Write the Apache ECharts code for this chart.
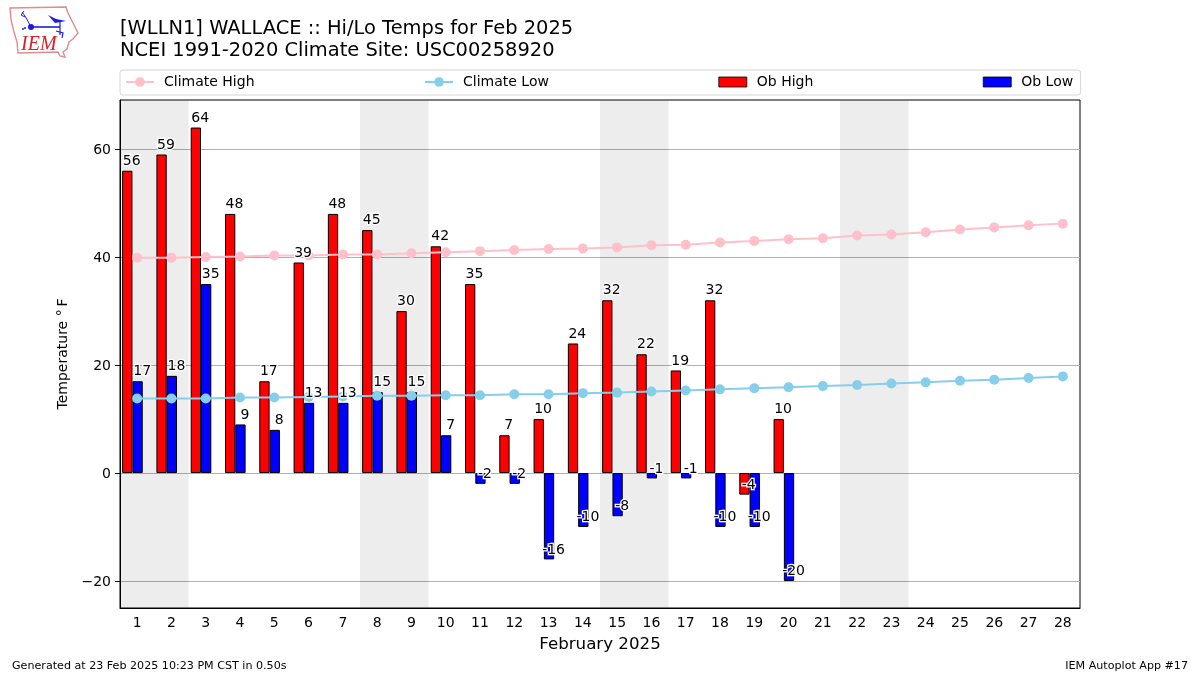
<!DOCTYPE html>
<html>
<head>
<meta charset="utf-8">
<style>html,body{margin:0;padding:0;background:#fff}#c{width:1200px;height:675px}</style>
<script src="https://cdn.jsdelivr.net/npm/echarts@6/dist/echarts.min.js"></script>
</head>
<body>
<div id="c"></div>
<script>
const days = ['1','2','3','4','5','6','7','8','9','10','11','12','13','14','15','16','17','18','19','20','21','22','23','24','25','26','27','28'];
const obHigh = [56,59,64,48,17,39,48,45,30,42,35,7,10,24,32,22,19,32,-4,10];
const obLow = [17,18,35,9,8,13,13,15,15,7,-2,-2,-16,-10,-8,-1,-1,-10,-10,-20];
const climateHigh = [39.9,39.9,40.0,40.1,40.3,40.3,40.5,40.5,40.7,40.9,41.1,41.3,41.5,41.6,41.8,42.2,42.3,42.7,43.0,43.3,43.5,44.0,44.2,44.6,45.1,45.5,45.9,46.2];
const climateLow = [13.8,13.8,13.8,14.0,14.0,14.1,14.2,14.3,14.3,14.4,14.4,14.6,14.6,14.8,14.9,15.1,15.3,15.5,15.7,15.9,16.1,16.3,16.6,16.8,17.1,17.3,17.6,17.9];
const weekends = [[0.5,2.5],[7.5,9.5],[14.5,16.5],[21.5,23.5]];
const yTicks = [-20,0,20,40,60];
const yMin = -25, yMax = 69.1;

const FONT = 'DejaVu Sans';
const chart = echarts.init(document.getElementById('c'), null, {renderer:'canvas'});

function labelSeries(name, values, dx){
  return {
    name, type:'scatter', z:20, silent:true, symbol:'circle', symbolSize:1,
    itemStyle:{opacity:0}, xAxisIndex:0, yAxisIndex:0,
    data: values.map((v,i)=>[i,v]),
    label:{show:true, position:[dx,-2], align:'center', verticalAlign:'bottom',
      formatter:p=>String(p.value[1]), fontFamily:FONT, fontSize:14, color:'#000',
      textBorderColor:'#fff', textBorderWidth:2.5, opacity:1},
    labelLayout:{hideOverlap:false},
    emphasis:{disabled:true}
  };
}

const logoPts = [[10,8],[66,7],[68,13],[72,21],[75,27],[78,33],[73,39],[69,42],[67,49],[63,52],[65,57],[60,56],[58,52],[18,53],[17,42],[14,32],[11,20]];
// bar legend swatch: zero-length moves keep a 1-unit margin above and below the box
const barIcon = 'path://M0 0L0 0M0 1L28 1L28 11L0 11ZM0 12L0 12';
const swatchEdge = {borderWidth:0.8};

chart.setOption({
  animation:false,
  backgroundColor:'#fff',
  textStyle:{fontFamily:FONT},
  title:[
    {text:'[WLLN1] WALLACE :: Hi/Lo Temps for Feb 2025\nNCEI 1991-2020 Climate Site: USC00258920',
     left:120, top:18, padding:0,
     textStyle:{fontFamily:FONT, fontSize:19.44, fontWeight:'normal', color:'#000', lineHeight:22}},
    {text:'Generated at 23 Feb 2025 10:23 PM CST in 0.50s', left:12, top:661, padding:0,
     textStyle:{fontFamily:FONT, fontSize:11.11, fontWeight:'normal', color:'#000'}},
    {text:'IEM Autoplot App #17', right:12, top:661, padding:0,
     textStyle:{fontFamily:FONT, fontSize:11.11, fontWeight:'normal', color:'#000'}}
  ],
  legend:{
    left:120, top:70, orient:'horizontal',
    padding:[5,7.5,6,5], itemGap:169.5, itemWidth:28, itemHeight:12,
    borderColor:'#d5d5d5', borderWidth:1, borderRadius:3, backgroundColor:'#fff',
    selectedMode:false,
    textStyle:{fontFamily:FONT, fontSize:14, color:'#000', padding:[0,0,0,5]},
    data:[{name:'Climate High'},{name:'Climate Low'},{name:'Ob High',icon:barIcon,itemStyle:swatchEdge},{name:'Ob Low',icon:barIcon,itemStyle:swatchEdge}]
  },
  grid:{left:120, right:120, top:100, bottom:67, show:true, borderColor:'#000', borderWidth:1, backgroundColor:'transparent', containLabel:false},
  xAxis:[
    {type:'category', data:days, boundaryGap:true, name:'February 2025', nameLocation:'middle', nameGap:28,
     nameTextStyle:{fontFamily:FONT, fontSize:16.67, color:'#000'},
     axisLine:{onZero:false, lineStyle:{color:'#000', width:1}},
     axisTick:{alignWithLabel:true, length:5, lineStyle:{color:'#000'}},
     axisLabel:{interval:0, fontFamily:FONT, fontSize:14, color:'#000', margin:8},
     splitLine:{show:false}},
    {type:'value', min:0.5, max:28.5, show:false, splitLine:{show:false}}
  ],
  yAxis:{
    type:'value', min:yMin, max:yMax, name:'Temperature °\u2009F',
    nameLocation:'middle', nameGap:49, nameRotate:90,
    nameTextStyle:{fontFamily:FONT, fontSize:14, color:'#000'},
    axisLine:{show:true, lineStyle:{color:'#000', width:1}},
    axisTick:{show:true, length:5, customValues:yTicks, lineStyle:{color:'#000'}},
    axisLabel:{fontFamily:FONT, fontSize:14, color:'#000', margin:9, verticalAlign:'top', padding:[-6,0,0,0], customValues:yTicks, formatter:v=>String(v).replace('-','\u2212')},
    splitLine:{show:true, lineStyle:{color:'#b0b0b0', width:1}}
  },
  series:[
    {name:'weekend', type:'line', xAxisIndex:1, yAxisIndex:0, data:[], silent:true, z:0,
     markArea:{silent:true, z:0, itemStyle:{color:'rgba(0,0,0,0.07)'},
       data:weekends.map(w=>[{xAxis:w[0], yAxis:yMin},{xAxis:w[1], yAxis:yMax}])}},
    {name:'Ob High', type:'bar', data:obHigh, barWidth:10.3, barGap:0, z:3,
     itemStyle:{color:'#ff0000', borderColor:'#000', borderWidth:1}, emphasis:{disabled:true}},
    {name:'Ob Low', type:'bar', data:obLow, barWidth:10.3, barGap:0, z:3,
     itemStyle:{color:'#0000ff', borderColor:'#000', borderWidth:1}, emphasis:{disabled:true}},
    {name:'spacer', type:'bar', data:[], barWidth:9.4, barGap:0, silent:true},
    {name:'Climate High', type:'line', data:climateHigh, z:5, symbol:'circle', symbolSize:10, showSymbol:true,
     lineStyle:{color:'#ffc0cb', width:2}, itemStyle:{color:'#ffc0cb'}, emphasis:{disabled:true}},
    {name:'Climate Low', type:'line', data:climateLow, z:5, symbol:'circle', symbolSize:10, showSymbol:true,
     lineStyle:{color:'#87ceeb', width:2}, itemStyle:{color:'#87ceeb'}, emphasis:{disabled:true}},
    labelSeries('Ob High values', obHigh, -5),
    labelSeries('Ob Low values', obLow, 5.5)
  ],
  graphic:[
    {type:'polygon', shape:{points:logoPts}, style:{fill:'#fff', stroke:'#e28c8c', lineWidth:1.4}, z:1},
    {type:'line', shape:{x1:31,y1:27,x2:60,y2:27}, style:{stroke:'#1c1ce0', lineWidth:1.6}, z:2},
    {type:'circle', shape:{cx:31,cy:27,r:3}, style:{fill:'#1c1ce0'}, z:2},
    {type:'polygon', shape:{points:[[48,15],[56,19],[66,21],[55,23]]}, style:{fill:'#1c1ce0'}, z:2},
    {type:'line', shape:{x1:60,y1:21,x2:60,y2:35}, style:{stroke:'#1c1ce0', lineWidth:1.2}, z:2},
    {type:'polyline', shape:{points:[[30,25],[25,16],[22,12]]}, style:{stroke:'#1c1ce0', lineWidth:1, fill:null}, z:2},
    {type:'polyline', shape:{points:[[24,11],[21,15],[25,17]]}, style:{stroke:'#1c1ce0', lineWidth:1, fill:null}, z:2},
    {type:'polyline', shape:{points:[[56,31],[63,33],[62,38]]}, style:{stroke:'#1c1ce0', lineWidth:1.2, fill:null}, z:2},
    {type:'circle', shape:{cx:25,cy:28,r:1}, style:{fill:'#1c1ce0'}, z:2},
    {type:'circle', shape:{cx:23,cy:29,r:1}, style:{fill:'#1c1ce0'}, z:2},
    {type:'text', left:21, top:35, style:{text:'IEM', fontFamily:'Liberation Serif', fontStyle:'italic', fontSize:20, fill:'#d8222a'}, z:3}
  ]
});
</script>
</body>
</html>
